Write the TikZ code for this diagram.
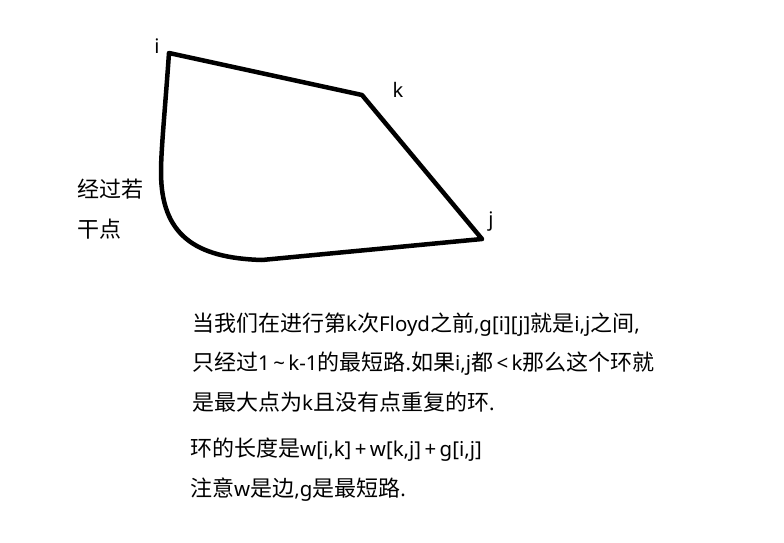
\documentclass[tikz,border=0pt]{standalone}
\usepackage{fontspec}
\setmainfont{Noto Sans CJK SC}
\newfontfamily\lat[Scale=0.93]{Noto Sans}
\newfontfamily\latlab{Noto Sans}
\newcommand{\lt}[1]{{\lat #1}}
\begin{document}
\begin{tikzpicture}[x=1pt,y=-1pt,
  edge/.style={line width=4.5pt,line join=round,line cap=round},
  txt/.style={anchor=base west,inner sep=0pt,font=\fontsize{22}{26}\selectfont},
  vlab/.style={anchor=base,inner sep=0pt,font=\latlab\fontsize{20}{24}\selectfont}]
\useasboundingbox (0,0) rectangle (784,543);
\fill[white] (0,0) rectangle (784,543);
\coordinate (i) at (169,53);
\coordinate (k) at (362,95);
\coordinate (j) at (482,239);
\coordinate (c1) at (161,172);
\coordinate (c2) at (262,260);
\draw[edge] (j) -- (k) -- (i) .. controls (165,110) and (161,150) .. (c1)
  .. controls (161,235) and (195,258) .. (c2) -- (j);
\node[vlab] (li) at (157,54) {i};
\node[vlab] (lk) at (398,97) {k};
\node[vlab] (lj) at (491,226) {j};
\node[txt] (p1) at (77,197) {经过若};
\node[txt] (p2) at (77,237) {干点};
\node[txt] (t1) at (192,331) {当我们在进行第\lt{k}次\lt{Floyd}之前\lt{,g[i][j]}就是\lt{i,j}之间\lt{,}};
\node[txt] (t2) at (192,370) {只经过\lt{1\,\textasciitilde\,k-1}的最短路\lt{.}如果\lt{i,j}都\lt{\,<\,k}那么这个环就};
\node[txt] (t3) at (192,410) {是最大点为\lt{k}且没有点重复的环\lt{.}};
\node[txt] (t4) at (190,456) {环的长度是\lt{w[i,k]\,+\,w[k,j]\,+\,g[i,j]}};
\node[txt] (t5) at (190,496) {注意\lt{w}是边\lt{,g}是最短路\lt{.}};
\end{tikzpicture}
\end{document}
